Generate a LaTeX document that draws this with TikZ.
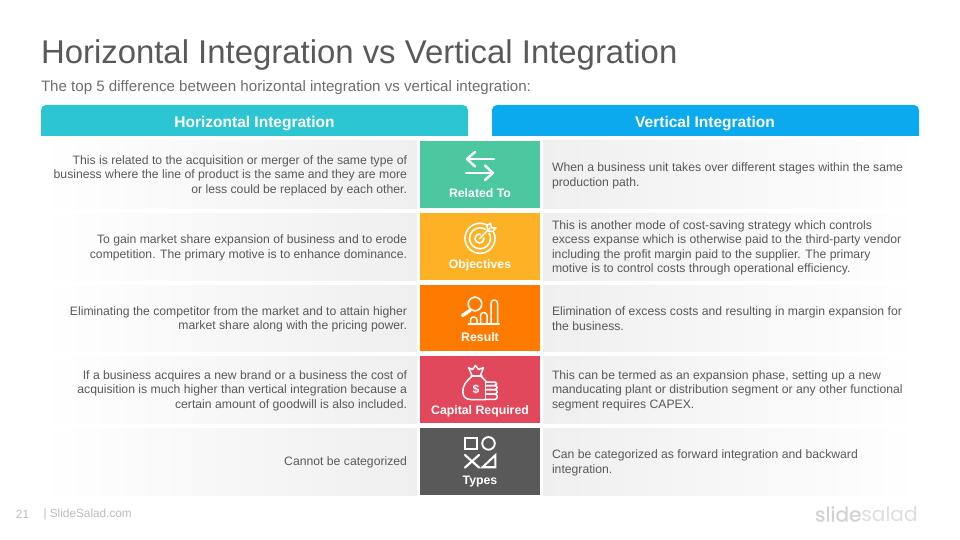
\documentclass[tikz,border=0pt]{standalone}
\usepackage{fontspec}
\setmainfont{Liberation Sans}
\newfontfamily\logofont{Poppins}
\newfontfamily\logobold[FakeBold=0.6]{Poppins}
\definecolor{ink}{HTML}{595959}
\definecolor{subink}{HTML}{6E6E6E}
\definecolor{foot}{HTML}{BDBDBD}
\definecolor{logoc}{HTML}{DEDEDE}
\definecolor{logod}{HTML}{D2D2D2}
\definecolor{rowc}{HTML}{EFEFEF}
\definecolor{teal}{HTML}{2CC6D3}
\definecolor{skyb}{HTML}{0BA9EE}
\definecolor{cgreen}{HTML}{4BC8A0}
\definecolor{camber}{HTML}{FDB124}
\definecolor{corange}{HTML}{FF7B00}
\definecolor{cred}{HTML}{E2485B}
\definecolor{cgray}{HTML}{595959}
\tikzset{
  x=1pt,y=-1pt,
  every node/.style={inner sep=0pt,outer sep=0pt},
  bodyl/.style={anchor=east,align=right,text=ink,font=\fontsize{12.2}{14.4}\selectfont},
  bodyr/.style={anchor=west,align=left,text=ink,font=\fontsize{12.2}{14.4}\selectfont},
  lab/.style={anchor=center,text=white,font=\fontsize{12.3}{14}\selectfont\bfseries},
  head/.style={anchor=center,text=white,font=\fontsize{15.5}{18}\selectfont\bfseries},
  ico/.style={draw=white,line width=2.4pt,line cap=round,line join=round},
  icot/.style={draw=white,line width=1.5pt,line cap=round,line join=round}
}
\newcommand{\rowpair}[2]{%
  \shade[left color=white,right color=rowc] (41,#1) rectangle (417,#2);
  \shade[left color=rowc,right color=white] (543,#1) rectangle (919,#2);
}
\begin{document}
\begin{tikzpicture}
\useasboundingbox (0,0) rectangle (960,540);
\fill[white] (0,0) rectangle (960,540);
\node[anchor=west,text=ink,font=\fontsize{32.9}{36}\selectfont] (title) at (41,54.5) {Horizontal Integration vs Vertical Integration};
\node[anchor=west,text=subink,font=\fontsize{15.1}{17}\selectfont] (sub) at (41,88) {The top 5 difference between horizontal integration vs vertical integration:};
% headers
\fill[teal] (41,136) {[rounded corners=5pt] -- (41,105) -- (468,105)} -- (468,136) -- cycle;
\fill[skyb] (492,136) {[rounded corners=5pt] -- (492,105) -- (919,105)} -- (919,136) -- cycle;
\node[head] (hl) at (254.5,123.5) {Horizontal Integration};
\node[head] (hr) at (705,123.5) {Vertical Integration};
% rows
\rowpair{141}{208}\rowpair{213}{280}\rowpair{285}{351}\rowpair{356}{423}\rowpair{428}{495}
\fill[cgreen] (420,141) rectangle (540,208);
\fill[camber] (420,213) rectangle (540,280);
\fill[corange] (420,285) rectangle (540,351);
\fill[cred] (420,356) rectangle (540,423);
\fill[cgray] (420,428) rectangle (540,495);
% left text
\node[bodyl] (l1) at (407,175.8) {This is related to the acquisition or merger of the same type of\\business where the line of product is the same and they are more\\or less could be replaced by each other.};
\node[bodyl] (l2) at (407,247.8) {To gain market share expansion of business and to erode\\competition. The primary motive is to enhance dominance.};
\node[bodyl] (l3) at (407,319.3) {Eliminating the competitor from the market and to attain higher\\market share along with the pricing power.};
\node[bodyl] (l4) at (407,390.8) {If a business acquires a new brand or a business the cost of\\acquisition is much higher than vertical integration because a\\certain amount of goodwill is also included.};
\node[bodyl] (l5) at (407,462.8) {Cannot be categorized};
% right text
\node[bodyr] (r1) at (552,175.8) {When a business unit takes over different stages within the same\\production path.};
\node[bodyr] (r2) at (552,247.8) {This is another mode of cost-saving strategy which controls\\excess expanse which is otherwise paid to the third-party vendor\\including the profit margin paid to the supplier. The primary\\motive is to control costs through operational efficiency.};
\node[bodyr] (r3) at (552,318.8) {Elimination of excess costs and resulting in margin expansion for\\the business.};
\node[bodyr] (r4) at (552,390.8) {This can be termed as an expansion phase, setting up a new\\manducating plant or distribution segment or any other functional\\segment requires CAPEX.};
\node[bodyr] (r5) at (552,462.8) {Can be categorized as forward integration and backward\\integration.};
% centre labels
\node[lab] (c1) at (480,193) {Related To};
\node[lab] (c2) at (480,265.3) {Objectives};
\node[lab] (c3) at (480,337.3) {Result};
\node[lab] (c4) at (480,411.8) {Capital Required};
\node[lab] (c5) at (480,481.5) {Types};
% icon 1: arrows
\draw[ico] (467,159) -- (494,159);
\draw[ico] (475,152) -- (467,159) -- (475,166.5);
\draw[ico] (466,173) -- (493,173);
\draw[ico] (485,165.5) -- (493,173) -- (485,180);
% icon 2: target
\draw[white,line width=1.6pt] (480,238.3) circle[radius=15];
\draw[white,line width=1.6pt] (480,238.3) circle[radius=10.5];
\draw[white,line width=1.6pt] (479.5,238.5) circle[radius=4.5];
\draw[camber,line width=4.5pt] (482,236.5) -- (491,227.5);
\fill[camber] (488,221) rectangle (498,232);
\draw[icot] (479.5,238.8) -- (490,228);
\draw[icot] (487.5,230.5) -- (487,225.5) -- (490.5,223) -- (491.5,228) -- (496,227.5) -- (493,231.5) -- (488.5,231);
% icon 3: magnifier and bars
\draw[white,line width=1.6pt] (475,304) circle[radius=6.8];
\draw[white,line width=3.4pt,line cap=round] (470,310.5) -- (462.5,315.5);
\draw[icot] (468.3,324) -- (499.3,324);
\draw[icot,rounded corners=3pt] (470.5,324) -- (470.5,317) -- (477,317) -- (477,324);
\draw[icot,rounded corners=3pt] (480.5,324) -- (480.5,312.5) -- (487,312.5) -- (487,324);
\draw[icot,rounded corners=3pt] (491,324) -- (491,300) -- (497.5,300) -- (497.5,324);
% icon 4: money bag and coins
\draw[icot] (472.5,376) .. controls (466,381) and (462.5,386) .. (462.8,392) .. controls (463,397) and (466,399.5) .. (471,399.5) -- (485.5,399.5);
\draw[icot] (480.5,376) .. controls (483,378) and (485,380) .. (486.5,382);
\draw[icot] (471,376) -- (482,376);
\draw[icot] (472,375.5) -- (468.5,367.5) -- (472.5,369.5) -- (475.5,365.5) -- (478.5,369.5) -- (483.5,367.5) -- (480.5,375.5);
\node[anchor=center,text=white,font=\fontsize{12}{12}\selectfont\bfseries] (dollar) at (476,389) {\$};
\draw[icot,rounded corners=1.5pt] (485.5,382) -- (496.5,382) -- (496.5,385.5) -- (485.5,385.5);
\draw[icot,rounded corners=1.5pt] (485.5,385.5) -- (497,385.5) -- (497,389.5) -- (485.5,389.5);
\draw[icot,rounded corners=1.5pt] (485.5,389.5) -- (497,389.5) -- (497,394) -- (485.5,394);
\draw[icot,rounded corners=1.5pt] (485.5,394) -- (497,394) -- (497,399.3) -- (485.5,399.3);
\draw[icot] (485.5,382) -- (485.5,399.3);
% icon 5: shapes
\draw[ico,line width=1.9pt,line cap=butt,line join=miter] (465,437.7) rectangle (477.3,449.3);
\draw[white,line width=1.9pt] (488.5,443.4) circle[radius=6.3];
\draw[ico,line width=2.2pt] (465,455) -- (479,467.5);
\draw[ico,line width=2.2pt] (479,455) -- (465,467.5);
\draw[ico,line width=2.1pt,line cap=butt,line join=miter] (482.5,467.2) -- (495.3,467.2) -- (495.3,455.2) -- cycle;
% footer
\node[anchor=west,text=foot,font=\fontsize{11.8}{13}\selectfont] (pg) at (16,514.5) {21};
\node[anchor=west,text=foot,font=\fontsize{11.8}{13}\selectfont] (site) at (43.5,514.5) {| SlideSalad.com};
\node[anchor=west,text=logoc,font=\fontsize{20.1}{24}\selectfont] (logo) at (815,514) {\logobold\textcolor{logod}{slide}\logofont salad};
\end{tikzpicture}
\end{document}
